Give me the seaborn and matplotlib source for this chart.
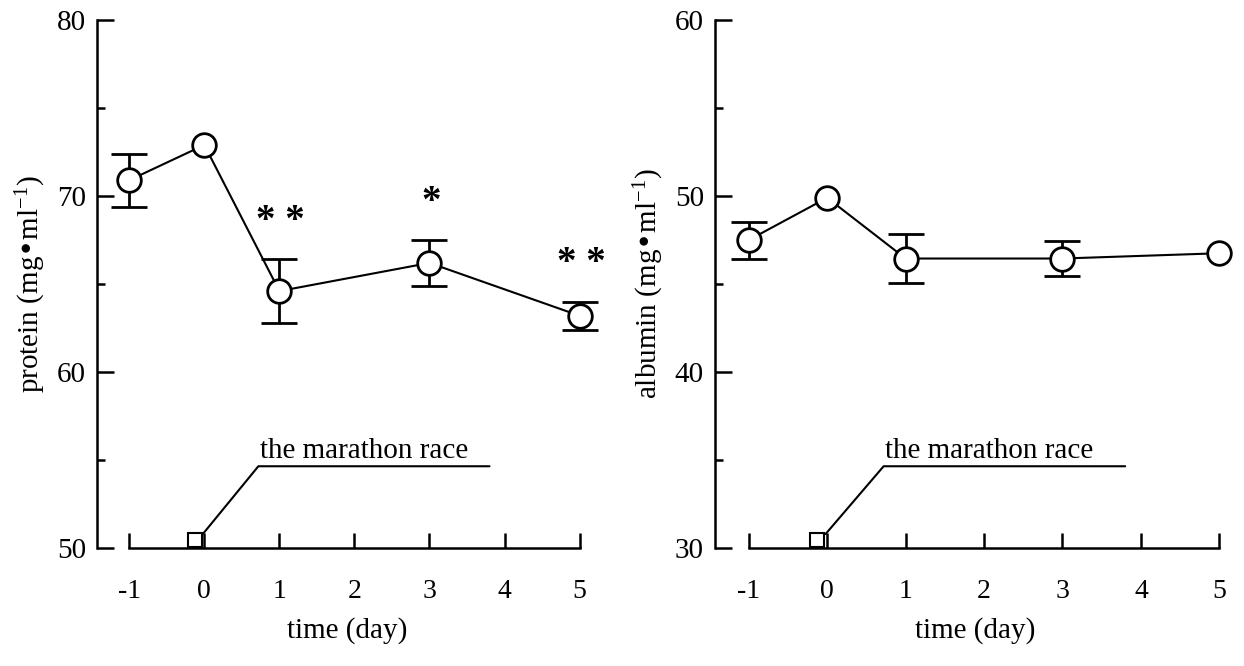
import numpy as np
import pandas as pd
import matplotlib
matplotlib.use("Agg")
import matplotlib.pyplot as plt
import seaborn as sns
from matplotlib.ticker import MultipleLocator

# ---- data ----
days = [-1, 0, 1, 3, 5]
protein_mean = [70.9, 72.9, 64.6, 66.2, 63.2]
protein_err = [1.5, 0.0, 1.8, 1.3, 0.8]
protein_sig = ["", "", "* *", "*", "* *"]
albumin_mean = [47.5, 49.9, 46.45, 46.45, 46.75]
albumin_err = [1.05, 0.0, 1.4, 1.0, 0.0]
xticks = [-1, 0, 1, 2, 3, 4, 5]
race_label = "the marathon race"

sns.set_style("ticks")
plt.rcParams["font.family"] = ["Liberation Serif", "DejaVu Serif"]
plt.rcParams["mathtext.default"] = "regular"
for k in ("text.color", "axes.labelcolor", "xtick.color", "ytick.color",
          "axes.edgecolor"):
    plt.rcParams[k] = "black"

fig = plt.figure(figsize=(12.44, 6.66), dpi=100)
ax1 = fig.add_axes([97 / 1244, 0.177, 0.403, 0.793])
ax2 = fig.add_axes([715 / 1244, 0.177, 0.418, 0.793])


def panel(ax, mean, err, ymin, ylabel, xmax, sig=None):
    df = pd.DataFrame({"day": days, "val": mean})
    xs = [d for d, e in zip(days, err) if e > 0]
    ys = [m for m, e in zip(mean, err) if e > 0]
    es = [e for e in err if e > 0]
    ax.errorbar(xs, ys, yerr=es, fmt="none", ecolor="black", elinewidth=2,
                capsize=13, capthick=2, zorder=2)
    sns.lineplot(data=df, x="day", y="val", ax=ax, color="black", linewidth=1.5,
                 marker="o", markersize=17, markerfacecolor="white",
                 markeredgecolor="black", markeredgewidth=2, zorder=3,
                 clip_on=False)
    ax.set_xlim(-1.43, xmax)
    ax.set_ylim(ymin, ymin + 30)
    ax.yaxis.set_major_locator(MultipleLocator(10))
    ax.yaxis.set_minor_locator(MultipleLocator(5))
    ax.set_xticks(xticks)
    ax.set_xticklabels([str(t) for t in xticks])
    sns.despine(ax=ax)
    ax.spines["bottom"].set_bounds(-1, 5)
    for s in ("left", "bottom"):
        ax.spines[s].set_linewidth(1.8)
        ax.spines[s].set_color("black")
    ax.tick_params(axis="y", which="major", direction="in", length=12, width=1.8,
                   labelsize=21, pad=8, colors="black")
    ax.tick_params(axis="y", which="minor", direction="in", length=6, width=1.8,
                   colors="black")
    ax.tick_params(axis="x", which="major", direction="in", length=11, width=1.8,
                   labelsize=20, pad=22, colors="black")
    ax.set_xlabel("time (day)", fontsize=21, labelpad=10, color="black")
    ax.set_ylabel(ylabel, fontsize=21, labelpad=6, color="black")
    # marathon race annotation
    ax.plot([-0.13], [ymin + 0.45], marker="s", markersize=10, markerfacecolor="white",
            markeredgecolor="black", markeredgewidth=1.5, clip_on=False, zorder=4)
    ax.plot([-0.02, 0.72, 3.8], [ymin + 0.8, ymin + 4.65, ymin + 4.65],
            color="black", linewidth=1.5, zorder=3)
    ax.text(0.74, ymin + 4.75, race_label, fontsize=21, ha="left", va="bottom",
            color="black")
    if sig:
        for d, m, e, s in zip(days, mean, err, sig):
            if s:
                ax.text(d + 0.02, m + e + 1.1, s, fontsize=28, fontweight="bold",
                        ha="center", va="bottom", color="black")


panel(ax1, protein_mean, protein_err, 50, r"protein (mg•ml$^{-1}$)", 5.25,
      protein_sig)
panel(ax2, albumin_mean, albumin_err, 30, r"albumin (mg•ml$^{-1}$)", 5.2)

fig.savefig("out.png", dpi=100, facecolor="white")
